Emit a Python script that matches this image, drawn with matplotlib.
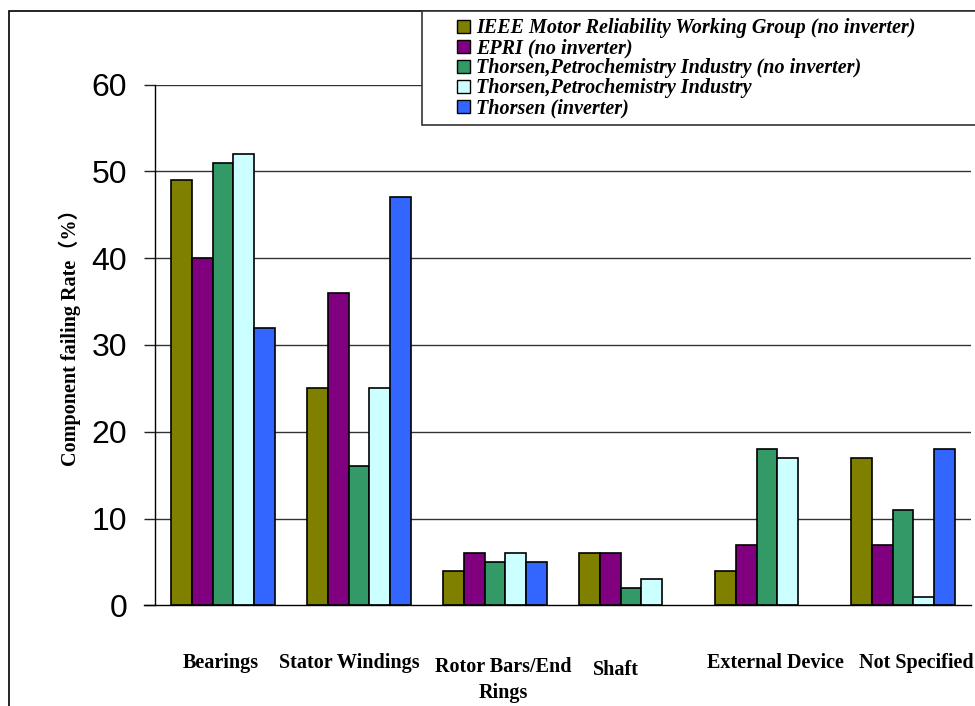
import matplotlib
matplotlib.use('Agg')
import matplotlib.pyplot as plt
import matplotlib.transforms as mtransforms
from matplotlib.patches import Rectangle, Patch
import numpy as np

# categories and failure shares (%) per survey
categories = ['Bearings', 'Stator Windings', 'Rotor Bars/End\nRings', 'Shaft',
              'External Device', 'Not Specified']
series_names = [
    'IEEE Motor Reliability Working Group (no inverter)',
    'EPRI (no inverter)',
    'Thorsen,Petrochemistry Industry (no inverter)',
    'Thorsen,Petrochemistry Industry',
    'Thorsen (inverter)',
]
ieee = [49, 25, 4, 6, 4, 17]
epri = [40, 36, 6, 6, 7, 7]
thorsen_no_inv = [51, 16, 5, 2, 18, 11]
thorsen_petro = [52, 25, 6, 3, 17, 1]
thorsen_inv = [32, 47, 5, None, None, 18]
y_ticks = [0, 10, 20, 30, 40, 50, 60]

colors = ['#808000', '#800080', '#339966', '#CCFFFF', '#3366FF']
all_series = [ieee, epri, thorsen_no_inv, thorsen_petro, thorsen_inv]

W, H = 975, 706
fig = plt.figure(figsize=(W / 100, H / 100), dpi=100)
ax = fig.add_axes([155 / W, 1 - 605.3 / H, (971 - 155) / W, (605.3 - 84.5) / H])

x = np.arange(len(categories))
bw = 0.153
for i, (vals, col) in enumerate(zip(all_series, colors)):
    xs = [xi + (i - 2) * bw for xi, v in zip(x, vals) if v is not None]
    vs = [v for v in vals if v is not None]
    ax.bar(xs, vs, width=bw, color=col, edgecolor='black', linewidth=1.2, zorder=3)

ax.set_xlim(-0.5, len(categories) - 0.5)
ax.set_ylim(0, 60)
ax.set_yticks(y_ticks)
ax.set_yticklabels([str(t) for t in y_ticks], fontsize=23, family='Liberation Sans')
ax.tick_params(axis='y', length=8, width=1, pad=12, color='#222222')
ax.set_xticks([])
for t in y_ticks[1:]:
    ax.axhline(t, color='#333333', linewidth=1, zorder=1)
for s in ['top', 'right']:
    ax.spines[s].set_visible(False)
ax.spines['left'].set_linewidth(1)
ax.spines['bottom'].set_linewidth(1)
ax.spines['bottom'].set_bounds(-0.5 - 11 / 136, len(categories) - 0.5)
ax.spines['bottom'].set_zorder(5)

# category labels under each group
nudge = [-0.02, -0.07, 0.06, -0.11, 0.06, 0.10]
label_y = [663, 663, 680, 670, 663, 663]
trans = mtransforms.blended_transform_factory(ax.transData, fig.transFigure)
for xi, lab, dx, py in zip(x, categories, nudge, label_y):
    ax.text(xi + dx, 1 - py / H, lab, transform=trans,
            ha='center', va='center', fontsize=14.5, fontweight='bold',
            family='Liberation Serif', linespacing=1.4)

fig.text(70 / W, 1 - 333 / H, 'Component failing Rate（%）', rotation=90,
         ha='center', va='center', fontsize=14.5, fontweight='bold',
         family=['Liberation Serif', 'Noto Sans CJK SC'])

# outer frame and legend box
fig.patches.append(Rectangle((8.5 / W, -0.05), 1.2, 1 - 11 / H + 0.05,
                             transform=fig.transFigure, fill=False,
                             edgecolor='black', linewidth=1.2, zorder=0))
fig.patches.append(Rectangle((422 / W, 1 - 124.5 / H), 1, (124.5 - 11) / H,
                             transform=fig.transFigure, facecolor='white',
                             edgecolor='#333333', linewidth=1.2, zorder=10))

handles = [Patch(facecolor=c, edgecolor='black', linewidth=1) for c in colors]
leg = fig.legend(handles, series_names, loc='upper left',
                 bbox_to_anchor=(457 / W, 1 - 18.5 / H), frameon=False,
                 prop={'family': 'Liberation Serif', 'weight': 'bold',
                       'style': 'italic', 'size': 14.5},
                 handlelength=0.65, handleheight=0.65, handletextpad=0.3,
                 labelspacing=0.0, borderpad=0, borderaxespad=0)
leg.set_zorder(11)

fig.savefig('out.png', dpi=100)
